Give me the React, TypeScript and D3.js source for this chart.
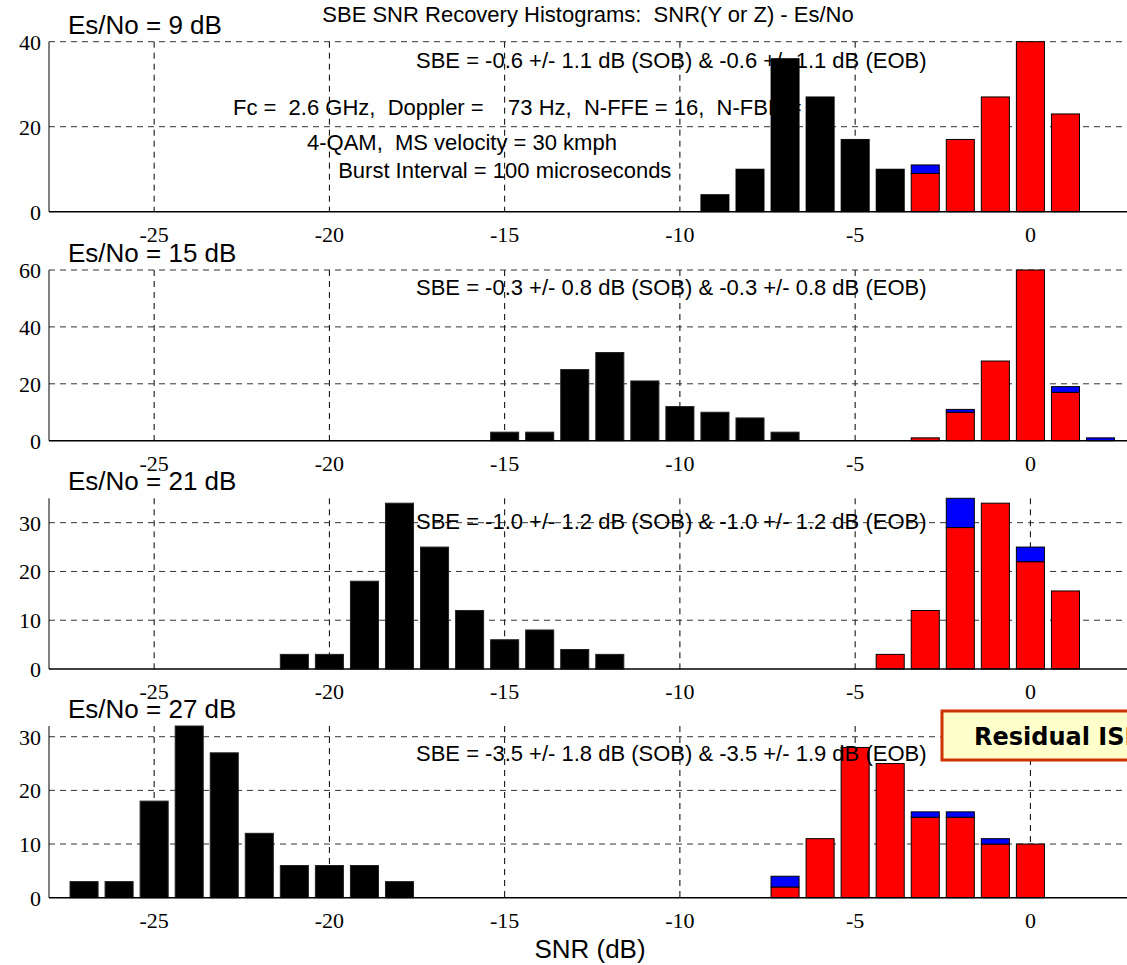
import React, { useEffect, useRef } from 'react';
import * as d3 from 'd3';

// histogram bin centres (dB)
const bins = [-27, -26, -25, -24, -23, -22, -21, -20, -19, -18, -17, -16, -15, -14, -13,
  -12, -11, -10, -9, -8, -7, -6, -5, -4, -3, -2, -1, 0, 1, 2];
const xTicks = [-25, -20, -15, -10, -5, 0];

// Es/No = 9 dB
const es9Black = [0, 0, 0, 0, 0, 0, 0, 0, 0, 0, 0, 0, 0, 0, 0, 0, 0, 0, 4, 10, 36, 27, 17, 10, 0, 0, 0, 0, 0, 0];
const es9Red = [0, 0, 0, 0, 0, 0, 0, 0, 0, 0, 0, 0, 0, 0, 0, 0, 0, 0, 0, 0, 0, 0, 0, 0, 9, 17, 27, 40, 23, 0];
const es9Blue = [0, 0, 0, 0, 0, 0, 0, 0, 0, 0, 0, 0, 0, 0, 0, 0, 0, 0, 0, 0, 0, 0, 0, 0, 2, 0, 0, 0, 0, 0];

// Es/No = 15 dB
const es15Black = [0, 0, 0, 0, 0, 0, 0, 0, 0, 0, 0, 0, 3, 3, 25, 31, 21, 12, 10, 8, 3, 0, 0, 0, 0, 0, 0, 0, 0, 0];
const es15Red = [0, 0, 0, 0, 0, 0, 0, 0, 0, 0, 0, 0, 0, 0, 0, 0, 0, 0, 0, 0, 0, 0, 0, 0, 1, 10, 28, 60, 17, 0];
const es15Blue = [0, 0, 0, 0, 0, 0, 0, 0, 0, 0, 0, 0, 0, 0, 0, 0, 0, 0, 0, 0, 0, 0, 0, 0, 0, 1, 0, 0, 2, 1];

// Es/No = 21 dB
const es21Black = [0, 0, 0, 0, 0, 0, 3, 3, 18, 34, 25, 12, 6, 8, 4, 3, 0, 0, 0, 0, 0, 0, 0, 0, 0, 0, 0, 0, 0, 0];
const es21Red = [0, 0, 0, 0, 0, 0, 0, 0, 0, 0, 0, 0, 0, 0, 0, 0, 0, 0, 0, 0, 0, 0, 0, 3, 12, 29, 34, 22, 16, 0];
const es21Blue = [0, 0, 0, 0, 0, 0, 0, 0, 0, 0, 0, 0, 0, 0, 0, 0, 0, 0, 0, 0, 0, 0, 0, 0, 0, 6, 0, 3, 0, 0];

// Es/No = 27 dB
const es27Black = [3, 3, 18, 32, 27, 12, 6, 6, 6, 3, 0, 0, 0, 0, 0, 0, 0, 0, 0, 0, 0, 0, 0, 0, 0, 0, 0, 0, 0, 0];
const es27Red = [0, 0, 0, 0, 0, 0, 0, 0, 0, 0, 0, 0, 0, 0, 0, 0, 0, 0, 0, 0, 2, 11, 28, 25, 15, 15, 10, 10, 0, 0];
const es27Blue = [0, 0, 0, 0, 0, 0, 0, 0, 0, 0, 0, 0, 0, 0, 0, 0, 0, 0, 0, 0, 2, 0, 0, 0, 1, 1, 1, 0, 0, 0];

const panelLabels = ['Es/No = 9 dB', 'Es/No = 15 dB', 'Es/No = 21 dB', 'Es/No = 27 dB'];
const sbeLabels = [
  'SBE = -0.6 +/- 1.1 dB (SOB) & -0.6 +/- 1.1 dB (EOB)',
  'SBE = -0.3 +/- 0.8 dB (SOB) & -0.3 +/- 0.8 dB (EOB)',
  'SBE = -1.0 +/- 1.2 dB (SOB) & -1.0 +/- 1.2 dB (EOB)',
  'SBE = -3.5 +/- 1.8 dB (SOB) & -3.5 +/- 1.9 dB (EOB)',
];
const yMaxes = [40, 60, 35, 32];
const yTickSets = [[0, 20, 40], [0, 20, 40, 60], [0, 10, 20, 30], [0, 10, 20, 30]];
const paramLines = [
  'Fc =  2.6 GHz,  Doppler =    73 Hz,  N-FFE = 16,  N-FBE = 16',
  '4-QAM,  MS velocity = 30 kmph',
  'Burst Interval = 100 microseconds',
];

const W = 1127;
const H = 965;
const SANS = '"Liberation Sans", Arial, Helvetica, sans-serif';
const SERIF = '"Liberation Serif", "Times New Roman", serif';

const App = () => {
  const svgRef = useRef(null);

  useEffect(() => {
    const svg = d3.select(svgRef.current);
    svg.selectAll('*').remove();

    const series = [
      [es9Black, es9Red, es9Blue],
      [es15Black, es15Red, es15Blue],
      [es21Black, es21Red, es21Blue],
      [es27Black, es27Red, es27Blue],
    ];
    // panel placement in px
    const tops = [41.7, 270, 498.3, 726];
    const bottoms = [211.7, 440.7, 669, 897.7];
    const sbeY = [68, 295, 529, 761];

    const x = d3.scaleLinear().domain([-28, 3]).range([49, 49 + 31 * 35.05]);
    const barW = (x(1) - x(0)) * 0.8;

    svg.append('rect').attr('width', W).attr('height', H).attr('fill', '#fff');

    svg.append('text')
      .attr('x', 588)
      .attr('y', 22)
      .attr('text-anchor', 'middle')
      .style('font-family', SANS)
      .style('font-size', '22px')
      .style('white-space', 'pre')
      .text('SBE SNR Recovery Histograms:  SNR(Y or Z) - Es/No');

    series.forEach(([black, red, blue], i) => {
      const top = tops[i];
      const bottom = bottoms[i];
      const y = d3.scaleLinear().domain([0, yMaxes[i]]).range([bottom, top]);
      const g = svg.append('g');

      // grid
      g.selectAll('.vgrid')
        .data(xTicks)
        .enter()
        .append('line')
        .attr('x1', d => x(d)).attr('x2', d => x(d))
        .attr('y1', top).attr('y2', bottom)
        .attr('stroke', '#000')
        .attr('stroke-dasharray', '6,5');

      g.selectAll('.hgrid')
        .data(yTickSets[i].filter(t => t > 0))
        .enter()
        .append('line')
        .attr('x1', 49).attr('x2', W)
        .attr('y1', d => y(d)).attr('y2', d => y(d))
        .attr('stroke', '#333')
        .attr('stroke-dasharray', '6,5');

      // stacked bars: black, red, blue
      const rows = bins.map((b, j) => ({ bin: b, black: black[j], red: red[j], blue: blue[j] }));
      const stacked = d3.stack().keys(['black', 'red', 'blue'])(rows);
      const fills = { black: '#000', red: '#ff0000', blue: '#0000ff' };
      stacked.forEach(layer => {
        g.selectAll(`.bar-${layer.key}`)
          .data(layer)
          .enter()
          .append('rect')
          .attr('x', d => x(d.data.bin) - barW / 2)
          .attr('y', d => y(d[1]))
          .attr('width', barW)
          .attr('height', d => y(d[0]) - y(d[1]))
          .attr('fill', fills[layer.key])
          .attr('stroke', layer.key === 'black' ? '#222' : '#000')
          .attr('stroke-width', 1);
      });

      // axes lines
      g.append('line')
        .attr('x1', 49).attr('x2', 49)
        .attr('y1', top).attr('y2', bottom)
        .attr('stroke', '#000');
      g.append('line')
        .attr('x1', 49).attr('x2', W)
        .attr('y1', bottom).attr('y2', bottom)
        .attr('stroke', '#000')
        .attr('stroke-width', 1.5);

      // tick labels
      g.selectAll('.ylab')
        .data(yTickSets[i])
        .enter()
        .append('text')
        .attr('x', 41)
        .attr('y', d => y(d))
        .attr('dy', '0.36em')
        .attr('text-anchor', 'end')
        .style('font-family', SERIF)
        .style('font-size', '22px')
        .text(d => d);

      g.selectAll('.xlab')
        .data(xTicks)
        .enter()
        .append('text')
        .attr('x', d => x(d))
        .attr('y', bottom + 30)
        .attr('text-anchor', 'middle')
        .style('font-family', SERIF)
        .style('font-size', '22px')
        .text(d => d);

      // panel title
      g.append('text')
        .attr('x', 68)
        .attr('y', top - 8)
        .style('font-family', SANS)
        .style('font-size', '26px')
        .text(panelLabels[i]);

      g.append('text')
        .attr('x', 416)
        .attr('y', sbeY[i])
        .style('font-family', SANS)
        .style('font-size', '22px')
        .text(sbeLabels[i]);
    });

    // parameter notes in the first panel
    const noteX = [x(-22.75), x(-20.64), x(-19.75)];
    const noteY = [115, 150, 178];
    paramLines.forEach((t, k) => {
      svg.append('text')
        .attr('x', noteX[k])
        .attr('y', noteY[k])
        .style('font-family', SANS)
        .style('font-size', '22px')
        .style('white-space', 'pre')
        .text(t);
    });
    // panel 1 black bars sit over the notes
    const y1 = d3.scaleLinear().domain([0, yMaxes[0]]).range([bottoms[0], tops[0]]);
    svg.append('g')
      .selectAll('rect')
      .data(bins.map((b, j) => ({ bin: b, v: es9Black[j] })).filter(d => d.v > 0))
      .enter()
      .append('rect')
      .attr('x', d => x(d.bin) - barW / 2)
      .attr('y', d => y1(d.v))
      .attr('width', barW)
      .attr('height', d => y1(0) - y1(d.v))
      .attr('fill', '#000');

    svg.append('text')
      .attr('x', 590)
      .attr('y', 958)
      .attr('text-anchor', 'middle')
      .style('font-family', SANS)
      .style('font-size', '26px')
      .text('SNR (dB)');

    // callout box, runs off the right edge
    svg.append('rect')
      .attr('x', 942)
      .attr('y', 711)
      .attr('width', 220)
      .attr('height', 49)
      .attr('fill', '#ffffcc')
      .attr('stroke', '#cc3300')
      .attr('stroke-width', 3);
    svg.append('text')
      .attr('x', 974)
      .attr('y', 745)
      .style('font-family', '"DejaVu Sans", Verdana, sans-serif')
      .style('font-weight', 'bold')
      .style('font-size', '24px')
      .text('Residual ISI');
  }, []);

  return (
    <svg ref={svgRef} width={W} height={H} style={{ position: 'absolute', left: 0, top: 0 }} />
  );
};

export default App;
